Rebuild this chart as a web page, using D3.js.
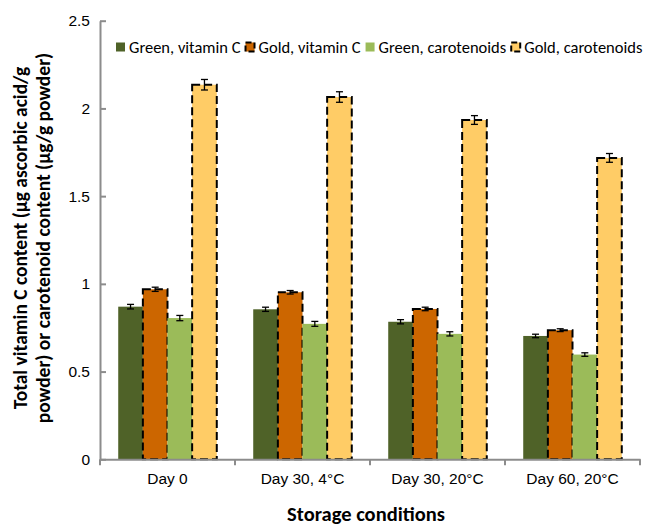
<!DOCTYPE html>
<html>
<head>
<meta charset="utf-8">
<script src="https://cdn.jsdelivr.net/npm/d3@7"></script>
<style>
  body { margin: 0; background: #fff; }
  svg { display: block; font-family: Carlito, Lato, sans-serif; }
  .yaxis path, .yaxis line, .xaxis path { stroke: #8c8c8c; stroke-width: 2; }
  .tick text { fill: #000; }
</style>
</head>
<body>
<svg id="chart" width="647" height="526"></svg>
<script>
var categories = ['Day 0', 'Day 30, 4°C', 'Day 30, 20°C', 'Day 60, 20°C'];
var seriesNames = ['Green, vitamin C', 'Gold, vitamin C', 'Green, carotenoids', 'Gold, carotenoids'];
var greenVitC = [0.870, 0.855, 0.784, 0.703];
var goldVitC = [0.969, 0.952, 0.857, 0.736];
var greenCarot = [0.805, 0.772, 0.715, 0.597];
var goldCarot = [2.135, 2.065, 1.934, 1.718];
var greenVitCErr = [0.013, 0.012, 0.012, 0.010];
var goldVitCErr = [0.012, 0.010, 0.010, 0.008];
var greenCarotErr = [0.015, 0.014, 0.012, 0.010];
var goldCarotErr = [0.030, 0.030, 0.025, 0.025];
var yTicks = [0, 0.5, 1, 1.5, 2, 2.5];

var colors = ['#4f6228', '#cc6600', '#9bbb59', '#ffcc66'];
var dashed = [false, true, false, true];

var svg = d3.select('#chart');
var margins = { top: 20.7, bottom: 66.7, left: 100, right: 7 };
var width = +svg.attr('width');
var height = +svg.attr('height');

var allValues = [greenVitC, goldVitC, greenCarot, goldCarot];
var allErrors = [greenVitCErr, goldVitCErr, greenCarotErr, goldCarotErr];

var data = [];
categories.forEach(function(c, i) {
  seriesNames.forEach(function(s, j) {
    data.push({ cat: c, series: s, idx: j, value: allValues[j][i], err: allErrors[j][i] });
  });
});

var x0 = d3.scaleBand()
  .domain(categories)
  .range([margins.left, width - margins.right])
  .paddingInner(0.27)
  .paddingOuter(0.135);
var x1 = d3.scaleBand()
  .domain(seriesNames)
  .range([0, x0.bandwidth()]);
var y = d3.scaleLinear()
  .domain([0, 2.5])
  .range([height - margins.bottom, margins.top]);

// y axis, ticks pointing inward
svg.append('g')
  .attr('class', 'yaxis')
  .attr('transform', 'translate(' + margins.left + ',0)')
  .call(d3.axisLeft(y).tickValues(yTicks).tickFormat(d3.format('')).tickSizeInner(-6).tickSizeOuter(0).tickPadding(10))
  .call(function(g) { g.selectAll('text').attr('font-size', '15.5px'); g.select('.domain').attr('stroke-width', 2); });

// bars
svg.append('g').selectAll('rect')
  .data(data)
  .enter()
  .append('rect')
  .attr('x', function(d) { return x0(d.cat) + x1(d.series); })
  .attr('y', function(d) { return y(d.value); })
  .attr('width', x1.bandwidth())
  .attr('height', function(d) { return y(0) - y(d.value); })
  .style('fill', function(d) { return colors[d.idx]; })
  .style('stroke', function(d) { return dashed[d.idx] ? '#000' : 'none'; })
  .style('stroke-width', 2)
  .style('stroke-dasharray', '8,4');

// x axis
var xAxisG = svg.append('g')
  .attr('class', 'xaxis')
  .attr('transform', 'translate(0,' + y(0) + ')')
  .call(d3.axisBottom(x0).tickSize(0).tickPadding(14))
  .call(function(g) { g.selectAll('text').attr('font-size', '15.5px'); g.select('.domain').attr('stroke-width', 2); });

// category boundary ticks
var bounds = categories.map(function(c) { return x0(c) - x0.step() * x0.paddingInner() / 2; });
bounds.push(width - margins.right);
xAxisG.selectAll('.bound')
  .data(bounds)
  .enter()
  .append('line')
  .attr('x1', function(d) { return d; })
  .attr('x2', function(d) { return d; })
  .attr('y1', 0)
  .attr('y2', 6)
  .attr('stroke', '#8c8c8c')
  .attr('stroke-width', 2);

// error bars
var eb = svg.append('g').selectAll('g')
  .data(data)
  .enter()
  .append('g')
  .attr('stroke', '#000')
  .attr('stroke-width', 1.3);
eb.append('line')
  .attr('x1', function(d) { return x0(d.cat) + x1(d.series) + x1.bandwidth() / 2; })
  .attr('x2', function(d) { return x0(d.cat) + x1(d.series) + x1.bandwidth() / 2; })
  .attr('y1', function(d) { return y(d.value + d.err); })
  .attr('y2', function(d) { return y(d.value - d.err); });
[1, -1].forEach(function(sign) {
  eb.append('line')
    .attr('x1', function(d) { return x0(d.cat) + x1(d.series) + x1.bandwidth() / 2 - 3.5; })
    .attr('x2', function(d) { return x0(d.cat) + x1(d.series) + x1.bandwidth() / 2 + 3.5; })
    .attr('y1', function(d) { return y(d.value + sign * d.err); })
    .attr('y2', function(d) { return y(d.value + sign * d.err); });
});

// legend
var legend = svg.append('g').attr('class', 'legend');
var lx = 116;
seriesNames.forEach(function(s, j) {
  var item = legend.append('g').attr('transform', 'translate(' + lx + ',47)');
  item.append('rect')
    .attr('x', 0).attr('y', -4.5)
    .attr('width', 9).attr('height', 9)
    .style('fill', colors[j])
    .style('stroke', dashed[j] ? '#000' : 'none')
    .style('stroke-width', 2)
    .style('stroke-dasharray', '6,3');
  var t = item.append('text')
    .attr('x', 13).attr('y', 5.5)
    .attr('font-size', '16.5px')
    .text(s);
  lx += 13 + t.node().getComputedTextLength() + 5;
});

// axis titles
svg.append('text')
  .attr('x', (margins.left + width - margins.right) / 2 - 4)
  .attr('y', 521)
  .attr('text-anchor', 'middle')
  .attr('font-size', '20.5px')
  .attr('font-weight', 'bold')
  .text('Storage conditions');

var yTitle = svg.append('text')
  .attr('transform', 'translate(27,238) rotate(-90)')
  .attr('text-anchor', 'middle')
  .attr('font-size', '19.5px')
  .attr('font-weight', 'bold');
yTitle.append('tspan').attr('x', 0).attr('y', 0).text('Total vitamin C content (µg ascorbic acid/g');
yTitle.append('tspan').attr('x', 0).attr('y', 23).text('powder) or carotenoid content (µg/g powder)');
</script>
</body>
</html>
